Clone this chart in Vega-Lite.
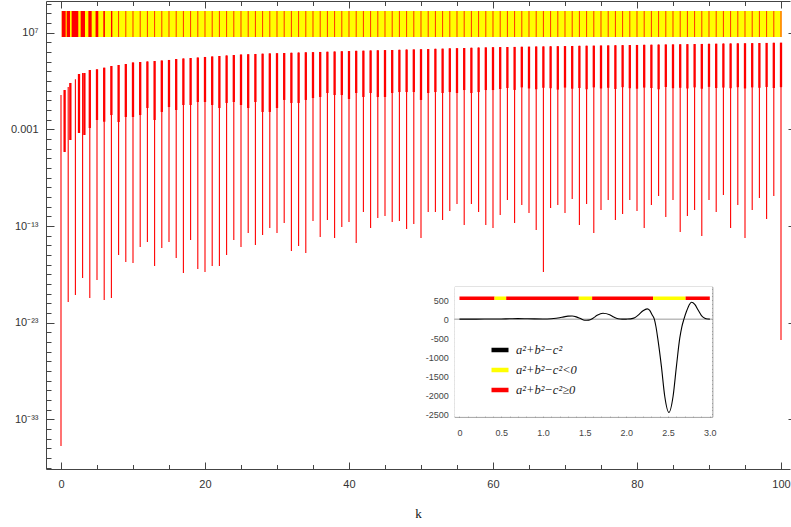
{
"$schema": "https://vega.github.io/schema/vega-lite/v6.json",
"width": 744, "height": 468,
"autosize": {"type": "none"},
"padding": {"left": 46, "top": 1, "right": 1, "bottom": 58},
"background": "white",
"config": {"view": {"stroke": null}, "axis": {"grid": false, "labelFont": "Liberation Sans", "titleFont": "Liberation Serif", "domainColor": "#444", "tickColor": "#444", "labelColor": "#333", "labelOverlap": false, "labelFlush": false},
 "legend": {"symbolType": "stroke", "symbolSize": 289, "symbolStrokeWidth": 4.5, "labelFont": "Liberation Serif", "labelFontStyle": "italic", "labelFontSize": 12.5, "labelColor": "#222", "rowPadding": 0, "labelOffset": 5, "padding": 0}},
"datasets": {
"spikes": [
{"k":0,"top":3.58,"sh":3.58,"dp":1.74e-36},
{"k":0.5,"top":11.7,"sh":4.57e-6,"dp":4.57e-6},
{"k":1,"top":24,"sh":24,"dp":1.38e-21},
{"k":1.3,"top":63,"sh":7.94e-5,"dp":7.94e-5},
{"k":2,"top":151,"sh":151,"dp":7.24e-21},
{"k":2.5,"top":537,"sh":4.17e-4,"dp":4.17e-4},
{"k":3,"top":676,"sh":676,"dp":4.17e-19},
{"k":3.25,"top":676,"sh":2.63e-4,"dp":2.63e-4},
{"k":4,"top":1380,"sh":1.38e-3,"dp":3.55e-21},
{"k":5,"top":1620,"sh":9.33e-3,"dp":2.57e-19},
{"k":6,"top":2400,"sh":6.17e-3,"dp":2.19e-21},
{"k":7,"top":3590,"sh":0.0302,"dp":3.55e-21},
{"k":8,"top":4570,"sh":5.75e-3,"dp":1e-16},
{"k":9,"top":5750,"sh":0.0191,"dp":1.91e-17},
{"k":10,"top":8320,"sh":0.0191,"dp":1.48e-17},
{"k":11,"top":9330,"sh":0.0302,"dp":6.76e-16},
{"k":12,"top":1.05e4,"sh":0.162,"dp":2.19e-15},
{"k":13,"top":1.17e4,"sh":9.33e-3,"dp":7.24e-18},
{"k":14,"top":1.32e4,"sh":0.063,"dp":5.25e-16},
{"k":15,"top":1.51e4,"sh":0.204,"dp":2.19e-15},
{"k":16,"top":1.91e4,"sh":0.1,"dp":4.9e-17},
{"k":17,"top":2.14e4,"sh":0.331,"dp":1.38e-18},
{"k":18,"top":2.4e4,"sh":0.331,"dp":3.55e-15},
{"k":19,"top":2.69e4,"sh":0.676,"dp":3.55e-18},
{"k":20,"top":3.09e4,"sh":0.676,"dp":1.74e-18},
{"k":21,"top":3.47e4,"sh":0.331,"dp":7.24e-18},
{"k":22,"top":3.89e4,"sh":0.162,"dp":7.24e-18},
{"k":23,"top":4.37e4,"sh":0.537,"dp":1e-16},
{"k":24,"top":4.9e4,"sh":0.676,"dp":3.55e-15},
{"k":25,"top":5.5e4,"sh":0.331,"dp":6.76e-16},
{"k":26,"top":5.89e4,"sh":0.162,"dp":1.91e-14},
{"k":27,"top":6.31e4,"sh":0.676,"dp":1.07e-15},
{"k":28,"top":6.76e4,"sh":0.063,"dp":1.17e-14},
{"k":29,"top":7.24e4,"sh":0.063,"dp":6.17e-14},
{"k":30,"top":7.59e4,"sh":0.162,"dp":1.91e-14},
{"k":31,"top":7.94e4,"sh":1.1,"dp":2.04e-13},
{"k":32,"top":8.32e4,"sh":0.537,"dp":2.57e-16},
{"k":33,"top":8.71e4,"sh":0.537,"dp":8.51e-16},
{"k":34,"top":9.33e4,"sh":1.1,"dp":1.62e-16},
{"k":35,"top":9.77e4,"sh":1.74,"dp":3.31e-13},
{"k":36,"top":1.02e5,"sh":2.24,"dp":7.24e-15},
{"k":37,"top":1.07e5,"sh":5.75,"dp":4.17e-13},
{"k":38,"top":1.12e5,"sh":3.55,"dp":5.75e-15},
{"k":39,"top":1.2e5,"sh":3.55,"dp":7.94e-14},
{"k":40,"top":1.26e5,"sh":1.38,"dp":2.57e-13},
{"k":41,"top":1.32e5,"sh":5.75,"dp":1.74e-15},
{"k":42,"top":1.38e5,"sh":2.24,"dp":2.82e-12},
{"k":43,"top":1.45e5,"sh":5.75,"dp":6.17e-14},
{"k":44,"top":1.51e5,"sh":2.24,"dp":6.76e-13},
{"k":45,"top":1.58e5,"sh":2.24,"dp":1.07e-12},
{"k":46,"top":1.62e5,"sh":5.75,"dp":2.57e-13},
{"k":47,"top":1.7e5,"sh":7.24,"dp":3.31e-13},
{"k":48,"top":1.78e5,"sh":7.24,"dp":4.9e-14},
{"k":49,"top":1.86e5,"sh":7.24,"dp":1.62e-13},
{"k":50,"top":1.95e5,"sh":1.1,"dp":5.75e-15},
{"k":51,"top":2.04e5,"sh":5.75,"dp":2.82e-12},
{"k":52,"top":2.14e5,"sh":7.24,"dp":2.82e-12},
{"k":53,"top":2.24e5,"sh":5.75,"dp":4.17e-13},
{"k":54,"top":2.4e5,"sh":7.24,"dp":3.55e-12},
{"k":55,"top":2.51e5,"sh":5.75,"dp":1.91e-11},
{"k":56,"top":2.63e5,"sh":11.7,"dp":1.26e-13},
{"k":57,"top":2.75e5,"sh":5.75,"dp":1.91e-11},
{"k":58,"top":2.88e5,"sh":7.24,"dp":2.82e-12},
{"k":59,"top":3.02e5,"sh":11.7,"dp":1.26e-13},
{"k":60,"top":3.16e5,"sh":11.7,"dp":6.17e-14},
{"k":61,"top":3.24e5,"sh":15,"dp":1.38e-12},
{"k":62,"top":3.31e5,"sh":19,"dp":4.9e-11},
{"k":63,"top":3.39e5,"sh":12,"dp":2.04e-13},
{"k":64,"top":3.5e5,"sh":22,"dp":1.48e-11},
{"k":65,"top":3.6e5,"sh":17,"dp":2.19e-12},
{"k":66,"top":3.72e5,"sh":14,"dp":3.89e-14},
{"k":67,"top":3.8e5,"sh":20,"dp":1.74e-18},
{"k":68,"top":3.89e5,"sh":18,"dp":7.24e-12},
{"k":69,"top":4.0e5,"sh":13,"dp":1.48e-11},
{"k":70,"top":4.12e5,"sh":21,"dp":2.19e-12},
{"k":71,"top":4.24e5,"sh":16,"dp":6.17e-11},
{"k":72,"top":4.37e5,"sh":19,"dp":1.26e-13},
{"k":73,"top":4.47e5,"sh":14,"dp":1.91e-11},
{"k":74,"top":4.59e5,"sh":22,"dp":1.91e-14},
{"k":75,"top":4.72e5,"sh":17,"dp":4.57e-12},
{"k":76,"top":4.85e5,"sh":20,"dp":4.9e-11},
{"k":77,"top":4.98e5,"sh":15,"dp":4.17e-13},
{"k":78,"top":5.13e5,"sh":23,"dp":1.74e-12},
{"k":79,"top":5.25e5,"sh":18,"dp":4.9e-11},
{"k":80,"top":5.4e5,"sh":16,"dp":3.55e-12},
{"k":81,"top":5.55e5,"sh":21,"dp":6.17e-14},
{"k":82,"top":5.7e5,"sh":19,"dp":1.48e-11},
{"k":83,"top":5.85e5,"sh":14,"dp":1.26e-10},
{"k":84,"top":6.03e5,"sh":24,"dp":8.51e-13},
{"k":85,"top":6.17e5,"sh":18,"dp":4.9e-11},
{"k":86,"top":6.31e5,"sh":20,"dp":2.4e-14},
{"k":87,"top":6.52e5,"sh":17,"dp":1.07e-12},
{"k":88,"top":6.7e5,"sh":22,"dp":4.57e-12},
{"k":89,"top":6.89e5,"sh":16,"dp":9.33e-15},
{"k":90,"top":7.08e5,"sh":25,"dp":4.9e-11},
{"k":91,"top":7.24e5,"sh":19,"dp":2.82e-12},
{"k":92,"top":7.46e5,"sh":21,"dp":1.62e-10},
{"k":93,"top":7.66e5,"sh":18,"dp":6.17e-14},
{"k":94,"top":7.87e5,"sh":23,"dp":1.48e-11},
{"k":95,"top":8.09e5,"sh":17,"dp":5.75e-15},
{"k":96,"top":8.32e5,"sh":22,"dp":4.57e-12},
{"k":97,"top":8.51e5,"sh":20,"dp":7.94e-11},
{"k":98,"top":8.77e5,"sh":24,"dp":5.25e-13},
{"k":99,"top":9.02e5,"sh":19,"dp":1.26e-10},
{"k":100,"top":9.23e5,"sh":23,"dp":1.62e-25}
],
"band": [
{"a":0.1,"b":100.1,"sign":"a²+b²−c²<0"},
{"a":0.1,"b":0.65,"sign":"a²+b²−c²≥0"},
{"a":0.79,"b":1.25,"sign":"a²+b²−c²≥0"},
{"a":1.48,"b":2.4,"sign":"a²+b²−c²≥0"},
{"a":2.73,"b":3.33,"sign":"a²+b²−c²≥0"},
{"a":3.8,"b":4.26,"sign":"a²+b²−c²≥0"},
{"a":4.8,"b":5.18,"sign":"a²+b²−c²≥0"},
{"a":5.88,"b":6.1,"sign":"a²+b²−c²≥0"},
{"a":6.94,"b":7.13,"sign":"a²+b²−c²≥0"}
],
"insetBand": [
{"x1":0,"x2":0.42,"sign":"a²+b²−c²≥0"},
{"x1":0.42,"x2":0.56,"sign":"a²+b²−c²<0"},
{"x1":0.56,"x2":1.43,"sign":"a²+b²−c²≥0"},
{"x1":1.43,"x2":1.59,"sign":"a²+b²−c²<0"},
{"x1":1.59,"x2":2.32,"sign":"a²+b²−c²≥0"},
{"x1":2.32,"x2":2.71,"sign":"a²+b²−c²<0"},
{"x1":2.71,"x2":3.0,"sign":"a²+b²−c²≥0"}
],
"inset": [
{"x":0,"v":0,"series":"a²+b²−c²"},{"x":0.1,"v":1,"series":"a²+b²−c²"},{"x":0.2,"v":2,"series":"a²+b²−c²"},{"x":0.3,"v":3,"series":"a²+b²−c²"},{"x":0.4,"v":4,"series":"a²+b²−c²"},{"x":0.5,"v":6,"series":"a²+b²−c²"},{"x":0.6,"v":10,"series":"a²+b²−c²"},{"x":0.7,"v":14,"series":"a²+b²−c²"},{"x":0.8,"v":12,"series":"a²+b²−c²"},{"x":0.9,"v":7,"series":"a²+b²−c²"},{"x":1.0,"v":5,"series":"a²+b²−c²"},{"x":1.1,"v":12,"series":"a²+b²−c²"},{"x":1.2,"v":35,"series":"a²+b²−c²"},{"x":1.25,"v":60,"series":"a²+b²−c²"},{"x":1.3,"v":80,"series":"a²+b²−c²"},{"x":1.35,"v":82,"series":"a²+b²−c²"},{"x":1.4,"v":60,"series":"a²+b²−c²"},{"x":1.45,"v":15,"series":"a²+b²−c²"},{"x":1.5,"v":-30,"series":"a²+b²−c²"},{"x":1.55,"v":-25,"series":"a²+b²−c²"},{"x":1.6,"v":25,"series":"a²+b²−c²"},{"x":1.65,"v":100,"series":"a²+b²−c²"},{"x":1.72,"v":155,"series":"a²+b²−c²"},{"x":1.8,"v":115,"series":"a²+b²−c²"},{"x":1.85,"v":55,"series":"a²+b²−c²"},{"x":1.9,"v":12,"series":"a²+b²−c²"},{"x":1.95,"v":0,"series":"a²+b²−c²"},{"x":2.0,"v":2,"series":"a²+b²−c²"},{"x":2.05,"v":8,"series":"a²+b²−c²"},{"x":2.1,"v":35,"series":"a²+b²−c²"},{"x":2.15,"v":120,"series":"a²+b²−c²"},{"x":2.2,"v":220,"series":"a²+b²−c²"},{"x":2.25,"v":270,"series":"a²+b²−c²"},{"x":2.28,"v":230,"series":"a²+b²−c²"},{"x":2.31,"v":110,"series":"a²+b²−c²"},{"x":2.335,"v":0,"series":"a²+b²−c²"},{"x":2.355,"v":-200,"series":"a²+b²−c²"},{"x":2.376,"v":-500,"series":"a²+b²−c²"},{"x":2.42,"v":-1240,"series":"a²+b²−c²"},{"x":2.46,"v":-2025,"series":"a²+b²−c²"},{"x":2.51,"v":-2450,"series":"a²+b²−c²"},{"x":2.56,"v":-2025,"series":"a²+b²−c²"},{"x":2.6,"v":-1240,"series":"a²+b²−c²"},{"x":2.64,"v":-500,"series":"a²+b²−c²"},{"x":2.665,"v":-200,"series":"a²+b²−c²"},{"x":2.69,"v":0,"series":"a²+b²−c²"},{"x":2.72,"v":200,"series":"a²+b²−c²"},{"x":2.76,"v":400,"series":"a²+b²−c²"},{"x":2.78,"v":445,"series":"a²+b²−c²"},{"x":2.82,"v":390,"series":"a²+b²−c²"},{"x":2.86,"v":240,"series":"a²+b²−c²"},{"x":2.9,"v":95,"series":"a²+b²−c²"},{"x":2.94,"v":25,"series":"a²+b²−c²"},{"x":2.98,"v":4,"series":"a²+b²−c²"},{"x":3.0,"v":0,"series":"a²+b²−c²"}
]
},
"layer": [
{
"layer": [
{"data": {"name": "spikes"}, "mark": {"type": "rule", "color": "#ff0000", "strokeWidth": 1.1},
 "encoding": {
  "x": {"field": "k", "type": "quantitative", "scale": {"domain": [-2.083, 101.25], "nice": false, "zero": false},
        "axis": {"orient": "bottom", "values": [0,20,40,60,80,100], "tickSize": -7, "labelPadding": 16, "labelFontSize": 11, "title": "k", "titleFontSize": 13, "titleFontWeight": "normal", "titleColor": "#111", "titlePadding": 18}},
  "y": {"field": "dp", "type": "quantitative", "scale": {"type": "log", "domain": [7.24e-39, 1.905e10], "nice": false},
        "axis": {"orient": "left", "values": [1e7, 0.001, 1e-13, 1e-23, 1e-33], "tickSize": -8, "labelPadding": 16, "labelFontSize": 11, "title": null,
                 "labelExpr": "round(log(datum.value)/LN10) == 7 ? '10⁷' : round(log(datum.value)/LN10) == -3 ? '0.001' : round(log(datum.value)/LN10) == -13 ? '10⁻¹³' : round(log(datum.value)/LN10) == -23 ? '10⁻²³' : '10⁻³³'"}},
  "y2": {"field": "top"}
 }},
{"data": {"name": "spikes"}, "mark": {"type": "rule", "color": "#ff0000", "strokeWidth": 2.3},
 "encoding": {
  "x": {"field": "k", "type": "quantitative", "scale": {"domain": [-2.083, 101.25], "nice": false, "zero": false},
        "axis": {"orient": "bottom", "values": [0,5,10,15,20,25,30,35,40,45,50,55,60,65,70,75,80,85,90,95,100], "tickSize": -4.5, "labels": false, "domain": false, "title": null}},
  "y": {"field": "sh", "type": "quantitative", "scale": {"type": "log", "domain": [7.24e-39, 1.905e10], "nice": false},
        "axis": {"orient": "left", "values": [1e-38,1e-37,1e-36,1e-35,1e-34,1e-33,1e-32,1e-31,1e-30,1e-29,1e-28,1e-27,1e-26,1e-25,1e-24,1e-23,1e-22,1e-21,1e-20,1e-19,1e-18,1e-17,1e-16,1e-15,1e-14,1e-13,1e-12,1e-11,1e-10,1e-9,1e-8,1e-7,1e-6,1e-5,1e-4,1e-3,1e-2,1e-1,1,10,100,1000,1e4,1e5,1e6,1e7,1e8,1e9,1e10], "tickSize": -5, "labels": false, "domain": false, "title": null}},
  "y2": {"field": "top"}
 }},
{"data": {"name": "band"}, "mark": {"type": "rect"},
 "encoding": {
  "x": {"field": "a", "type": "quantitative", "scale": {"domain": [-2.083, 101.25], "nice": false, "zero": false},
        "axis": {"orient": "top", "values": [0,20,40,60,80,100], "tickSize": -7, "labels": false, "title": null}},
  "x2": {"field": "b"},
  "y": {"datum": 3.59e6, "type": "quantitative", "scale": {"type": "log", "domain": [7.24e-39, 1.905e10], "nice": false},
        "axis": {"orient": "right", "offset": 6, "values": [1e7, 0.001, 1e-13, 1e-23, 1e-33], "tickSize": -8, "labels": false, "title": null}},
  "y2": {"datum": 1.76e9},
  "color": {"field": "sign", "type": "nominal", "scale": {"domain": ["a²+b²−c²", "a²+b²−c²<0", "a²+b²−c²≥0"], "range": ["#000000", "#ffff00", "#ff0000"]},
            "legend": {"orient": "none", "legendX": 443, "legendY": 338, "title": null, "encode": {"symbols": {"update": {"stroke": {"scale": "color", "field": "value"}}}}}}
 }},
{"data": {"name": "spikes"}, "transform": [{"filter": "datum.k >= 7.9"}], "mark": {"type": "rule", "color": "#ff0000", "strokeWidth": 1, "opacity": 0.8},
 "encoding": {
  "x": {"field": "k", "type": "quantitative", "scale": {"domain": [-2.083, 101.25], "nice": false, "zero": false},
        "axis": {"orient": "top", "values": [0,5,10,15,20,25,30,35,40,45,50,55,60,65,70,75,80,85,90,95,100], "tickSize": -4.5, "labels": false, "domain": false, "title": null}},
  "y": {"datum": 3.59e6, "type": "quantitative", "scale": {"type": "log", "domain": [7.24e-39, 1.905e10], "nice": false},
        "axis": {"orient": "right", "offset": 6, "values": [1e-38,1e-37,1e-36,1e-35,1e-34,1e-33,1e-32,1e-31,1e-30,1e-29,1e-28,1e-27,1e-26,1e-25,1e-24,1e-23,1e-22,1e-21,1e-20,1e-19,1e-18,1e-17,1e-16,1e-15,1e-14,1e-13,1e-12,1e-11,1e-10,1e-9,1e-8,1e-7,1e-6,1e-5,1e-4,1e-3,1e-2,1e-1,1,10,100,1000,1e4,1e5,1e6,1e7,1e8,1e9,1e10], "tickSize": -5, "labels": false, "domain": false, "title": null}},
  "y2": {"datum": 1.76e9}
 }}
],
"resolve": {"axis": {"x": "independent", "y": "independent"}}
},
{
"layer": [
{"data": {"values": [{}]}, "mark": {"type": "rect", "color": "white"},
 "encoding": {
  "x": {"datum": -0.062, "type": "quantitative", "scale": {"domain": [-0.062, 3.03], "range": [408.3, 666.3], "nice": false, "zero": false},
        "axis": {"orient": "bottom", "offset": -52.3, "values": [0,0.5,1,1.5,2,2.5,3], "tickSize": -4, "labelPadding": 16, "labelFontSize": 9, "labelColor": "#444", "domainColor": "#888", "tickColor": "#666", "title": null,
                 "labelExpr": "datum.value == 0 ? '0' : format(datum.value, '.1f')"}},
  "x2": {"datum": 3.03},
  "y": {"datum": -2563, "type": "quantitative", "scale": {"domain": [-2563, 853], "range": [415.7, 285.7], "nice": false, "zero": false},
        "axis": {"orient": "left", "offset": -408.3, "values": [500,0,-500,-1000,-1500,-2000,-2500], "tickSize": -4, "labelPadding": 10, "labelFontSize": 9, "labelColor": "#444", "domainColor": "#888", "tickColor": "#666", "title": null,
                 "labelExpr": "'' + datum.value"}},
  "y2": {"datum": 853}
 }},
{"data": {"values": [{}]}, "mark": {"type": "rule", "color": "#999999", "strokeWidth": 1},
 "encoding": {
  "x": {"datum": -0.062, "type": "quantitative", "scale": {"domain": [-0.062, 3.03], "range": [408.3, 666.3], "nice": false, "zero": false},
        "axis": {"orient": "bottom", "offset": -52.3, "values": [0,0.1,0.2,0.3,0.4,0.5,0.6,0.7,0.8,0.9,1,1.1,1.2,1.3,1.4,1.5,1.6,1.7,1.8,1.9,2,2.1,2.2,2.3,2.4,2.5,2.6,2.7,2.8,2.9,3], "tickSize": -2.5, "labels": false, "domain": false, "tickColor": "#666", "title": null}},
  "x2": {"datum": 3.03},
  "y": {"datum": 0, "type": "quantitative", "scale": {"domain": [-2563, 853], "range": [415.7, 285.7], "nice": false, "zero": false},
        "axis": {"orient": "left", "offset": -408.3, "values": [800,700,600,500,400,300,200,100,0,-100,-200,-300,-400,-500,-600,-700,-800,-900,-1000,-1100,-1200,-1300,-1400,-1500,-1600,-1700,-1800,-1900,-2000,-2100,-2200,-2300,-2400,-2500], "tickSize": -2.5, "labels": false, "domain": false, "tickColor": "#666", "title": null}}
 }},
{"data": {"name": "insetBand"}, "mark": {"type": "rule", "strokeWidth": 3.5},
 "encoding": {
  "x": {"field": "x1", "type": "quantitative", "scale": {"domain": [-0.062, 3.03], "range": [408.3, 666.3], "nice": false, "zero": false},
        "axis": {"orient": "top", "offset": -285.7, "values": [0,0.5,1,1.5,2,2.5,3], "tickSize": -4, "labels": false, "domainColor": "#888", "tickColor": "#666", "title": null}},
  "x2": {"field": "x2"},
  "y": {"datum": 550, "type": "quantitative", "scale": {"domain": [-2563, 853], "range": [415.7, 285.7], "nice": false, "zero": false},
        "axis": {"orient": "right", "offset": -77.7, "values": [500,0,-500,-1000,-1500,-2000,-2500], "tickSize": -4, "labels": false, "domainColor": "#888", "tickColor": "#666", "title": null}},
  "color": {"field": "sign", "type": "nominal", "scale": {"domain": ["a²+b²−c²", "a²+b²−c²<0", "a²+b²−c²≥0"], "range": ["#000000", "#ffff00", "#ff0000"]},
            "legend": {"orient": "none", "legendX": 443, "legendY": 338, "title": null, "encode": {"symbols": {"update": {"stroke": {"scale": "color", "field": "value"}}}}}}
 }},
{"data": {"name": "inset"}, "mark": {"type": "line", "strokeWidth": 1.1, "interpolate": "monotone"},
 "encoding": {
  "x": {"field": "x", "type": "quantitative", "scale": {"domain": [-0.062, 3.03], "range": [408.3, 666.3], "nice": false, "zero": false},
        "axis": {"orient": "top", "offset": -285.7, "values": [0,0.1,0.2,0.3,0.4,0.5,0.6,0.7,0.8,0.9,1,1.1,1.2,1.3,1.4,1.5,1.6,1.7,1.8,1.9,2,2.1,2.2,2.3,2.4,2.5,2.6,2.7,2.8,2.9,3], "tickSize": -2.5, "labels": false, "domain": false, "tickColor": "#666", "title": null}},
  "y": {"field": "v", "type": "quantitative", "scale": {"domain": [-2563, 853], "range": [415.7, 285.7], "nice": false, "zero": false},
        "axis": {"orient": "right", "offset": -77.7, "values": [800,700,600,500,400,300,200,100,0,-100,-200,-300,-400,-500,-600,-700,-800,-900,-1000,-1100,-1200,-1300,-1400,-1500,-1600,-1700,-1800,-1900,-2000,-2100,-2200,-2300,-2400,-2500], "tickSize": -2.5, "labels": false, "domain": false, "tickColor": "#666", "title": null}},
  "color": {"field": "series", "type": "nominal", "scale": {"domain": ["a²+b²−c²", "a²+b²−c²<0", "a²+b²−c²≥0"], "range": ["#000000", "#ffff00", "#ff0000"]},
            "legend": {"orient": "none", "legendX": 443, "legendY": 338, "title": null, "encode": {"symbols": {"update": {"stroke": {"scale": "color", "field": "value"}}}}}}
 }}
]
}
],
"resolve": {"scale": {"x": "independent", "y": "independent"}, "axis": {"x": "independent", "y": "independent"}}
}
